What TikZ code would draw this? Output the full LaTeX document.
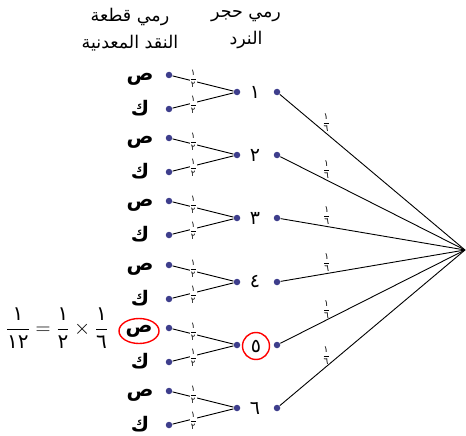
\documentclass[tikz,border=0pt]{standalone}
\usepackage{amsmath}
\usepackage{fontspec}
\usetikzlibrary{shapes.geometric}
\newfontfamily\arabicfont[Script=Arabic]{DejaVu Sans}
\TeXXeTstate=1
\definecolor{dotblue}{RGB}{62,62,140}
\newcommand{\artxt}[1]{{\arabicfont\beginR #1\endR}}
\newcommand{\kasr}[2]{$\dfrac{\text{\arabicfont #1}}{\text{\arabicfont #2}}$}
\tikzset{
  tdot/.style={circle, fill=dotblue, inner sep=0pt, minimum size=6.5pt},
  coin/.style={inner sep=1pt, font=\fontsize{20}{21}\selectfont\bfseries},
  digit/.style={inner sep=1pt, font=\fontsize{19}{20}\selectfont},
  half/.style={fill=white, inner sep=0pt, pos=0.34, font=\fontsize{8.5}{9}\selectfont},
  sixth/.style={above, inner sep=1.5pt, pos=0.25, font=\fontsize{9}{10}\selectfont},
  head/.style={align=center, font=\fontsize{17.5}{27}\selectfont},
  mark5/.style={draw=red, line width=1.4pt},
  every path/.style={line width=0.9pt}
}
\begin{document}
\begin{tikzpicture}[x=1pt, y=-1pt]
  \useasboundingbox (0,0) rectangle (466,436);
  \node[head] (hdie) at (246,30) {\artxt{رمي حجر}\\\artxt{النرد}};
  \node[head] (hcoin) at (130,30) {\artxt{رمي قطعة}\\\artxt{النقد المعدنية}};
  \coordinate (root) at (465,250);
  % die 1
  \node[tdot] (d1r) at (277,92) {}; \node[digit] (d1) at (255,92) {\artxt{١}}; \node[tdot] (d1l) at (237,92) {};
  \node[tdot] (h1) at (169,75) {}; \node[coin] (ch1) at (140,79) {\artxt{ص}};
  \node[tdot] (t1) at (169,109) {}; \node[coin] (ct1) at (140,108) {\artxt{ك}};
  % die 2
  \node[tdot] (d2r) at (277,155) {}; \node[digit] (d2) at (255,155) {\artxt{٢}}; \node[tdot] (d2l) at (237,155) {};
  \node[tdot] (h2) at (169,138) {}; \node[coin] (ch2) at (140,142) {\artxt{ص}};
  \node[tdot] (t2) at (169,172) {}; \node[coin] (ct2) at (140,171) {\artxt{ك}};
  % die 3
  \node[tdot] (d3r) at (277,218) {}; \node[digit] (d3) at (255,218) {\artxt{٣}}; \node[tdot] (d3l) at (237,218) {};
  \node[tdot] (h3) at (169,201) {}; \node[coin] (ch3) at (140,205) {\artxt{ص}};
  \node[tdot] (t3) at (169,235) {}; \node[coin] (ct3) at (140,234) {\artxt{ك}};
  % die 4
  \node[tdot] (d4r) at (277,282) {}; \node[digit] (d4) at (255,282) {\artxt{٤}}; \node[tdot] (d4l) at (237,282) {};
  \node[tdot] (h4) at (169,265) {}; \node[coin] (ch4) at (140,269) {\artxt{ص}};
  \node[tdot] (t4) at (169,299) {}; \node[coin] (ct4) at (140,298) {\artxt{ك}};
  % die 5
  \node[tdot] (d5r) at (277,345) {}; \node[digit, mark5, circle, inner sep=0pt, minimum size=27pt] (d5) at (256,346) {\artxt{٥}}; \node[tdot] (d5l) at (237,345) {};
  \node[tdot] (h5) at (169,328) {}; \node[coin, mark5, ellipse, inner sep=0pt, minimum width=40pt, minimum height=25pt] (ch5) at (139,331) {\artxt{ص}};
  \node[tdot] (t5) at (169,362) {}; \node[coin] (ct5) at (140,361) {\artxt{ك}};
  % die 6
  \node[tdot] (d6r) at (277,408) {}; \node[digit] (d6) at (255,408) {\artxt{٦}}; \node[tdot] (d6l) at (237,408) {};
  \node[tdot] (h6) at (169,391) {}; \node[coin] (ch6) at (140,395) {\artxt{ص}};
  \node[tdot] (t6) at (169,425) {}; \node[coin] (ct6) at (140,424) {\artxt{ك}};
  % branches
  \draw (h1) -- node[half, yshift=2pt]{\kasr{١}{٢}} (d1l); \draw (t1) -- node[half, yshift=-2pt]{\kasr{١}{٢}} (d1l);
  \draw (h2) -- node[half, yshift=2pt]{\kasr{١}{٢}} (d2l); \draw (t2) -- node[half, yshift=-2pt]{\kasr{١}{٢}} (d2l);
  \draw (h3) -- node[half, yshift=2pt]{\kasr{١}{٢}} (d3l); \draw (t3) -- node[half, yshift=-2pt]{\kasr{١}{٢}} (d3l);
  \draw (h4) -- node[half, yshift=2pt]{\kasr{١}{٢}} (d4l); \draw (t4) -- node[half, yshift=-2pt]{\kasr{١}{٢}} (d4l);
  \draw (h5) -- node[half, yshift=2pt]{\kasr{١}{٢}} (d5l); \draw (t5) -- node[half, yshift=-2pt]{\kasr{١}{٢}} (d5l);
  \draw (h6) -- node[half, yshift=2pt]{\kasr{١}{٢}} (d6l); \draw (t6) -- node[half, yshift=-2pt]{\kasr{١}{٢}} (d6l);
  \draw (d1r) -- node[sixth]{\kasr{١}{٦}} (root);
  \draw (d2r) -- node[sixth]{\kasr{١}{٦}} (root);
  \draw (d3r) -- node[sixth]{\kasr{١}{٦}} (root);
  \draw (d4r) -- node[sixth]{\kasr{١}{٦}} (root);
  \draw (d5r) -- node[sixth]{\kasr{١}{٦}} (root);
  \draw (d6r) -- node[sixth]{\kasr{١}{٦}} (root);
  \node[font=\fontsize{20}{21}\selectfont, inner sep=0pt] (eq) at (57,328) {$\dfrac{\text{\arabicfont ١}}{\text{\arabicfont ١٢}}=\dfrac{\text{\arabicfont ١}}{\text{\arabicfont ٢}}\times\dfrac{\text{\arabicfont ١}}{\text{\arabicfont ٦}}$};
\end{tikzpicture}
\end{document}
